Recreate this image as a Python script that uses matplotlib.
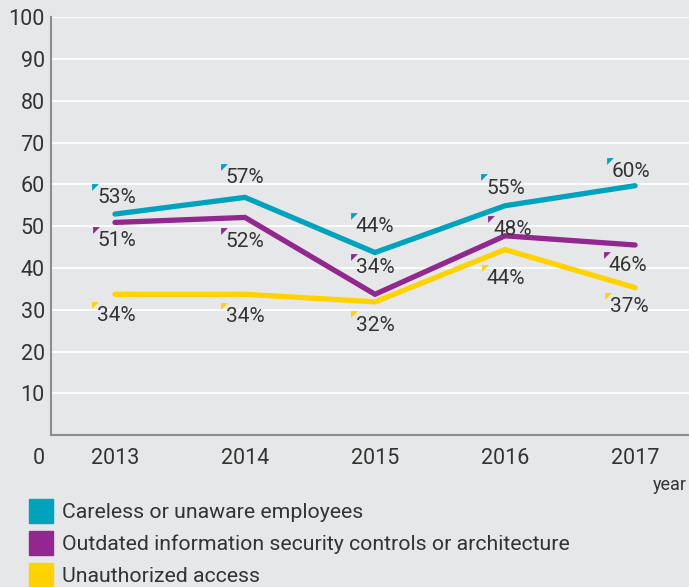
import matplotlib
matplotlib.use("Agg")
import matplotlib.pyplot as plt
from matplotlib.transforms import offset_copy
from matplotlib.patches import Rectangle

plt.rcParams['font.family'] = ['Roboto', 'DejaVu Sans']

years = [2013, 2014, 2015, 2016, 2017]
series_names = [
    "Careless or unaware employees",
    "Outdated information security controls or architecture",
    "Unauthorized access",
]
careless = [52.9, 56.9, 43.7, 54.9, 59.7]
outdated = [50.9, 52.1, 33.7, 47.7, 45.5]
unauthorized = [33.7, 33.7, 31.9, 44.4, 35.3]

careless_labels = ["53%", "57%", "44%", "55%", "60%"]
outdated_labels = ["51%", "52%", "34%", "48%", "46%"]
unauthorized_labels = ["34%", "34%", "32%", "44%", "37%"]

# label anchor (corner-marker top-left) positions in data coords
careless_lx = [2012.823, 2013.815, 2014.815, 2015.815, 2016.785]
careless_ly = [60.2, 65.0, 53.2, 62.4, 66.4]
outdated_lx = [2012.83, 2013.815, 2014.815, 2015.87, 2016.76]
outdated_ly = [49.9, 49.6, 43.4, 52.5, 43.9]
unauth_lx = [2012.823, 2013.815, 2014.815, 2015.82, 2016.77]
unauth_ly = [31.9, 31.7, 29.7, 40.8, 34.1]

colors = ["#00A3BE", "#91278F", "#FFD200"]
bg = "#E6E7E8"
txt = "#333333"

W, H = 689, 587
fig = plt.figure(figsize=(W / 100, H / 100), dpi=100, facecolor=bg)
ax = fig.add_axes([51 / W, 1 - 435.1 / H, (W - 51) / W, (435.1 - 17.3) / H])
ax.set_facecolor(bg)
ax.set_xlim(2012.508, 2017.415)
ax.set_ylim(0, 100)

ax.set_yticks(range(10, 101, 10))
ax.set_yticklabels([str(v) for v in range(10, 101, 10)])
ax.set_xticks(years)
ax.set_xticklabels([str(y) for y in years])
ax.tick_params(axis='both', length=0, labelsize=15.5, colors=txt)
ax.tick_params(axis='y', pad=4.5)
ax.tick_params(axis='x', pad=9)
ax.grid(axis='y', color='white', lw=1.3)
ax.set_axisbelow(True)
for s in ['top', 'right']:
    ax.spines[s].set_visible(False)
for s in ['left', 'bottom']:
    ax.spines[s].set_color('#8C8C8C')
    ax.spines[s].set_linewidth(1.5)

all_vals = [careless, outdated, unauthorized]
all_labels = [careless_labels, outdated_labels, unauthorized_labels]
all_lx = [careless_lx, outdated_lx, unauth_lx]
all_ly = [careless_ly, outdated_ly, unauth_ly]

marker_tr = offset_copy(ax.transData, fig=fig, x=3, y=-3, units='dots')
tri = [(-1, 1), (1, 1), (-1, -1)]
for vals, labs, lx, ly, c in zip(all_vals, all_labels, all_lx, all_ly, colors):
    ax.plot(years, vals, color=c, lw=3.8, solid_capstyle='round',
            solid_joinstyle='miter', zorder=3, clip_on=False)
    ax.scatter(lx, ly, marker=tri, s=24, color=c, transform=marker_tr,
               zorder=4, linewidths=0)
    for x, y, lab in zip(lx, ly, labs):
        ax.annotate(lab, (x, y), xytext=(5, -14), textcoords='offset pixels',
                    ha='left', va='center', fontsize=15, color=txt, zorder=5)

fig.text(45 / W, 1 - 458 / H, "0", ha='right', va='center', fontsize=15.5, color=txt)
fig.text(653 / W, 1 - 485 / H, "year", ha='left', va='center', fontsize=13, color=txt)

# legend
sq_y = [499, 531, 563]
for top, c, name in zip(sq_y, colors, series_names):
    fig.patches.append(Rectangle((29 / W, 1 - (top + 24) / H), 24 / W, 24 / H,
                                 transform=fig.transFigure, color=c))
    fig.text(62 / W, 1 - (top + 13) / H, name, ha='left', va='center',
             fontsize=15.3, color=txt)

fig.savefig("out.png", dpi=100, facecolor=bg)
